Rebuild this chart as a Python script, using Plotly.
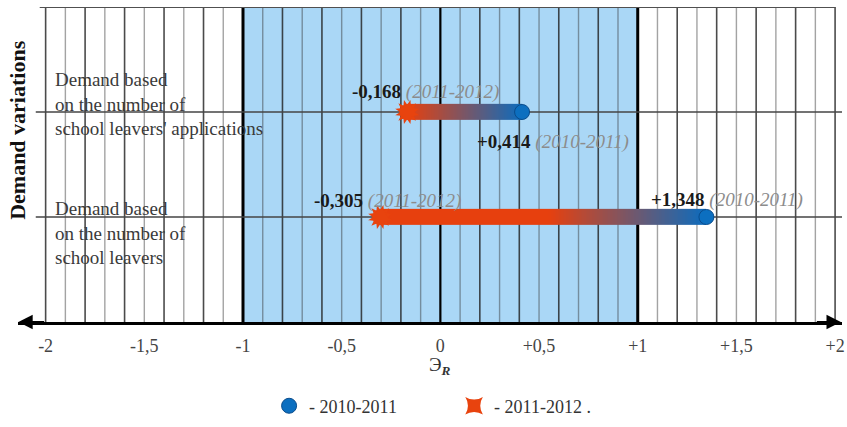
import numpy as np
import plotly.graph_objects as go

# ---------------- data ----------------
categories = ["Demand based<br>on the number of<br>school leavers' applications",
              "Demand based<br>on the number of<br>school leavers"]
values_2010_2011 = [0.414, 1.348]
values_2011_2012 = [-0.168, -0.305]
period_2010_2011 = "2010-2011"
period_2011_2012 = "2011-2012"
tick_vals = [-2, -1.5, -1, -0.5, 0, 0.5, 1, 1.5, 2]
tick_text = ["-2", "-1,5", "-1", "-0,5", "0", "+0,5", "+1", "+1,5", "+2"]
norm_band = [-1, 1]
axis_title = "Э<sub><b><i>R</i></b></sub>"
y_title = "Demand variations"

# ---------------- style ----------------
FONT = "Liberation Serif"
ORANGE = "rgb(231,64,14)"
BLUE = "rgb(12,108,190)"
BAND = "#AAD7F6"
BAR_W = 0.155
n_rows = len(categories)
row_y = [n_rows - i for i in range(n_rows)]
XR = [-2.14, 2.035]
YR = [0, n_rows + 1]


def fmt(v):
    return ("+" if v > 0 else "") + f"{v:.3f}".replace(".", ",")


fig = go.Figure()

# gradient bars drawn as one-row heatmaps spanning from the 2011-2012 value to the 2010-2011 value
N = 200
for yv, a, b in zip(row_y, values_2011_2012, values_2010_2011):
    edges = np.linspace(a, b, N + 1)
    mids = (edges[:-1] + edges[1:]) / 2
    G = min(0.8, b - a)
    t = np.clip((mids - (b - G)) / G, 0, 1)
    fig.add_trace(go.Heatmap(
        z=[t.tolist()], x=edges.tolist(), y=[yv - BAR_W / 2, yv + BAR_W / 2],
        colorscale=[[0, ORANGE], [1, BLUE]], zmin=0, zmax=1, showscale=False,
        hoverinfo="skip", zsmooth=False))

# 2010-2011 markers
fig.add_trace(go.Scatter(
    x=values_2010_2011, y=row_y, mode="markers", name="- " + period_2010_2011,
    marker=dict(symbol="circle", size=15, color="#0C6FC0",
                line=dict(color="#0A4C8C", width=1)),
    cliponaxis=False))

# 2011-2012 markers (starburst = rotated star-squares)
for k, ang in enumerate([0, 30, 60]):
    fig.add_trace(go.Scatter(
        x=values_2011_2012, y=row_y, mode="markers",
        name="- " + period_2011_2012 + " .", showlegend=(k == 0),
        marker=dict(symbol="star-square", size=16, angle=ang, color="#E8430E",
                    line=dict(width=0)),
        cliponaxis=False))

# ---------------- shapes ----------------
shapes = [dict(type="rect", xref="x", yref="y", x0=norm_band[0], x1=norm_band[1],
               y0=YR[0], y1=YR[1], fillcolor=BAND, line=dict(width=0), layer="below")]
for k in range(-20, 21):
    xv = k / 10
    y1 = YR[1]
    if xv in norm_band:
        col, w, y1 = "black", 3, YR[1] + 0.02
    elif k == 0:
        col, w = "black", 2.2
    elif k % 2 == 0:
        col, w = "rgba(30,30,30,0.8)", 1.6
    else:
        col, w = "rgba(50,50,50,0.45)", 1.4
    shapes.append(dict(type="line", xref="x", yref="y", x0=xv, x1=xv, y0=-0.045, y1=y1,
                       line=dict(color=col, width=w), layer="below"))
shapes.append(dict(type="line", xref="x", yref="y", x0=-2.03, x1=2.0, y0=YR[1], y1=YR[1],
                   line=dict(color="#505050", width=2), layer="below"))
for yv in row_y:
    shapes.append(dict(type="line", xref="x", yref="y", x0=-2.05, x1=XR[1], y0=yv, y1=yv,
                       line=dict(color="#454545", width=1.5), layer="below"))

# ---------------- annotations ----------------
ann = []
# axis arrows
ann.append(dict(x=XR[0] + 0.002, y=0, ax=-2.0, ay=0, xref="x", yref="y", axref="x",
                ayref="y", showarrow=True, arrowhead=2, arrowsize=1.3, arrowwidth=2.2,
                arrowcolor="black", text=""))
ann.append(dict(x=XR[1] - 0.006, y=0, ax=1.9, ay=0, xref="x", yref="y", axref="x",
                ayref="y", showarrow=True, arrowhead=2, arrowsize=1.3, arrowwidth=2.2,
                arrowcolor="black", text=""))

lab_font = dict(family=FONT, size=19, color="#1a1a1a")


def val_text(v, period):
    return "<b>%s</b> <i><span style='color:#8c8c8c'>(%s)</span></i>" % (fmt(v), period)


shifts_2011 = [(-57, 20), (-68, 16)]
shifts_2010 = [(-47, -30), (-57, 17)]
for i, yv in enumerate(row_y):
    ann.append(dict(x=values_2011_2012[i], y=yv, xref="x", yref="y", showarrow=False,
                    text=val_text(values_2011_2012[i], period_2011_2012), font=lab_font,
                    xanchor="left", yanchor="middle",
                    xshift=shifts_2011[i][0], yshift=shifts_2011[i][1]))
    ann.append(dict(x=values_2010_2011[i], y=yv, xref="x", yref="y", showarrow=False,
                    text=val_text(values_2010_2011[i], period_2010_2011), font=lab_font,
                    xanchor="left", yanchor="middle",
                    xshift=shifts_2010[i][0], yshift=shifts_2010[i][1]))

# row labels
row_shift = [8, -16]
for i, yv in enumerate(row_y):
    ann.append(dict(x=-2, y=yv, xref="x", yref="y", showarrow=False, text=categories[i],
                    align="left", xanchor="left", yanchor="middle", xshift=7,
                    yshift=row_shift[i], font=dict(family=FONT, size=19, color="#3a3a3a")))

# titles
ann.append(dict(x=0, y=0, xref="x", yref="paper", showarrow=False, text=axis_title,
                xanchor="center", yanchor="top", yshift=-30,
                font=dict(family=FONT, size=19, color="#333")))
ann.append(dict(x=0, y=1.83, xref="paper", yref="y", showarrow=False,
                text="<b>%s</b>" % y_title, textangle=-90, xanchor="center",
                yanchor="middle", font=dict(family=FONT, size=22, color="#111")))

fig.update_layout(
    width=847, height=427, margin=dict(l=18, r=2, t=7, b=94),
    plot_bgcolor="white", paper_bgcolor="white",
    shapes=shapes, annotations=ann,
    xaxis=dict(range=XR, tickvals=tick_vals, ticktext=tick_text, showgrid=False,
               zeroline=False, showline=True, linecolor="black", linewidth=2.5,
               ticks="", tickfont=dict(family=FONT, size=18, color="#444"),
               ticklabelstandoff=6, ticklabeloverflow="allow", fixedrange=True),
    yaxis=dict(range=YR, visible=False, fixedrange=True),
    showlegend=True,
    legend=dict(orientation="h", x=(270 - 18) / 827, xanchor="left",
                y=(333 - 420) / 326, yanchor="middle",
                font=dict(family=FONT, size=18, color="#333"),
                entrywidth=140, entrywidthmode="pixels", bgcolor="rgba(0,0,0,0)"),
)

fig.write_html("out.html", config={"displayModeBar": False},
               post_script="document.body.style.margin='0px';")
